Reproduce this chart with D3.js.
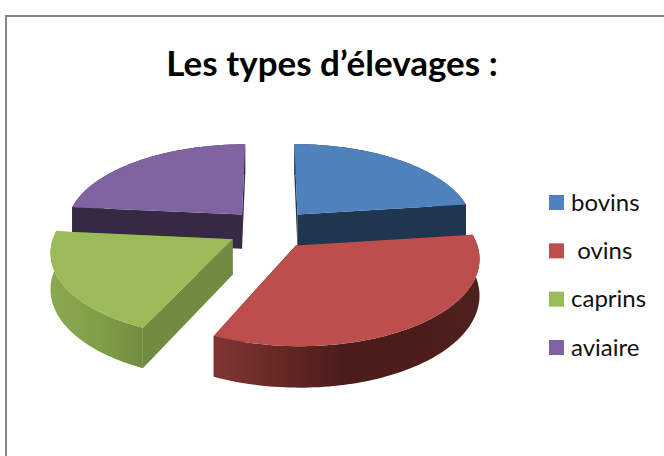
<!DOCTYPE html>
<html><head><meta charset="utf-8">
<script src="https://d3js.org/d3.v7.min.js"></script>
<style>html,body{margin:0;padding:0;background:#fff;overflow:hidden}svg{display:block}text{white-space:pre}</style>
</head><body><div id="c"></div>
<script>
const title = "Les types d’élevages :";
const categories = ["bovins", " ovins", "caprins", "aviaire"];
const values = [23, 33.8, 19.7, 23.5];
const topColors = ["#4f81bd", "#bc4f4c", "#9bbb59", "#8064a2"];
const wallColors = ["#1f3550", "#4a1d1c", "#718b40", "#352943"];
const rimStops = [
  ["#1f3550", "#1f3550"],
  ["#823634", "#652825", "#4b1c1a", "#4b1c1a", "#50201e"],
  ["#8aa84e", "#80a048", "#728c40"],
  ["#352943", "#352943"]
];

const W = 664, H = 456;
const cx = 270, cy = 229, R = 177, A = 83, k = 0.13, explode = 0.24, depth = 35;

const svg = d3.select("#c").append("svg").attr("width", W).attr("height", H);
const defs = svg.append("defs");

svg.append("path").attr("d", `M6,${H}V16H${W}`).attr("fill", "none").attr("stroke", "#868686").attr("stroke-width", 2);

svg.append("text").attr("x", 332).attr("y", 76).attr("text-anchor", "middle")
  .attr("font-family", "Lato").attr("font-weight", 700).attr("font-size", 35).attr("fill", "#000").text(title);

const project = (X, Y, z) => {
  const s = 1 / (1 - k * Y);
  return [cx + R * X * s, cy + A * Y * s + depth * z * s];
};

const arcs = d3.pie().sort(null).value(d => d)(values);
const line = d3.line();
const steps = 90;

const slices = arcs.map((a, i) => {
  const mid = (a.startAngle + a.endAngle) / 2;
  const ox = explode * Math.sin(mid), oy = -explode * Math.cos(mid);
  const pt = (t, z, r = 1) => project(ox + r * Math.sin(t), oy - r * Math.cos(t), z);
  const ang = d3.range(steps + 1).map(j => a.startAngle + (a.endAngle - a.startAngle) * j / steps);
  return { i, a, pt, ang };
});

const order = [3, 0, 2, 1];
order.forEach(i => {
  const { pt, ang, a } = slices[i];
  const g = svg.append("g");
  const top = ang.map(t => pt(t, 0)), bottom = ang.map(t => pt(t, 1));
  const xs = top.map(p => p[0]);
  const grad = defs.append("linearGradient").attr("id", "rim" + i)
    .attr("gradientUnits", "userSpaceOnUse")
    .attr("x1", d3.min(xs)).attr("x2", d3.max(xs)).attr("y1", 0).attr("y2", 0);
  rimStops[i].forEach((c, j) => grad.append("stop").attr("offset", j / (rimStops[i].length - 1)).attr("stop-color", c));
  [a.startAngle, a.endAngle].forEach(t => {
    g.append("path").attr("fill", wallColors[i])
      .attr("d", line([pt(t, 0, 0), pt(t, 0), pt(t, 1), pt(t, 1, 0)]) + "Z");
  });
  g.append("path").attr("fill", `url(#rim${i})`)
    .attr("d", line([...top, ...bottom.slice().reverse()]) + "Z");
  g.append("path").attr("fill", topColors[i])
    .attr("d", line([pt(0, 0, 0), ...top]) + "Z");
});

const legendY = d3.scalePoint().domain(categories).range([202.5, 347.5]);
const legend = svg.append("g").selectAll("g").data(categories).join("g");
legend.append("rect").attr("x", 549).attr("y", d => legendY(d) - 7.5).attr("width", 15).attr("height", 15)
  .attr("fill", (d, i) => topColors[i]);
legend.append("text").attr("x", 571).attr("y", d => legendY(d) + 8)
  .attr("font-family", "Lato").attr("font-size", 24).attr("fill", "#111").text(d => d);
</script></body></html>
